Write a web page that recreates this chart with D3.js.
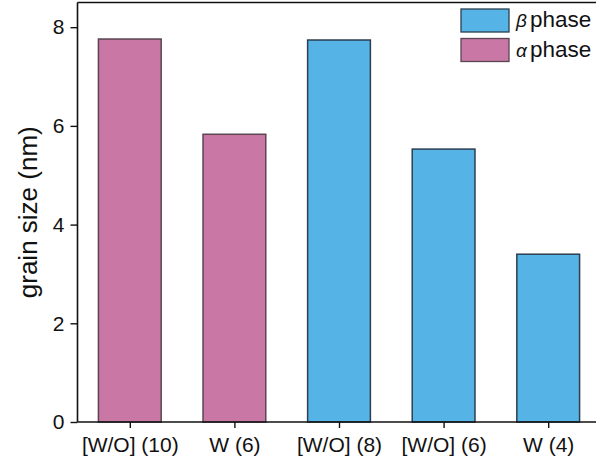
<!DOCTYPE html>
<html>
<head>
<meta charset="utf-8">
<script src="https://cdn.jsdelivr.net/npm/d3@7"></script>
<style>
  html, body { margin: 0; padding: 0; background: #fff; }
  svg { display: block; }
  text { font-family: "Liberation Sans", Arial, sans-serif; fill: #111; }
</style>
</head>
<body>
<script>
// Grain size per sample, grouped by phase
const categories = ["[W/O] (10)", "W (6)", "[W/O] (8)", "[W/O] (6)", "W (4)"];
const grainSize  = [7.76, 5.83, 7.74, 5.53, 3.40];
const phases     = ["alpha", "alpha", "beta", "beta", "beta"];
const yTicks     = [0, 2, 4, 6, 8];
const legendItems = [
  { key: "beta",  symbol: "\u03B2", label: "phase" },
  { key: "alpha", symbol: "\u03B1", label: "phase" }
];

const W = 596, H = 466;
const fillColor = { alpha: "#C978A6", beta: "#56B3E6" };
const strokeColor = { alpha: "#5a4552", beta: "#2c3e50" };

const svg = d3.select("body").append("svg")
  .attr("width", W).attr("height", H);

svg.append("rect").attr("width", W).attr("height", H).attr("fill", "#fff");

const plotLeft = 77.5, plotRight = 600.5, plotTop = 2.5, plotBottom = 422;

// categories sit at integer positions 1..n
const x = d3.scaleLinear().domain([0.5, categories.length + 0.5]).range([plotLeft, plotRight]);
const y = d3.scaleLinear().domain([0, 8.5]).range([plotBottom, plotTop]);
const barW = x(1.3) - x(0.7);

// bars
svg.append("g").selectAll("rect")
  .data(grainSize)
  .join("rect")
  .attr("x", (d, i) => x(i + 1) - barW / 2)
  .attr("y", d => y(d))
  .attr("width", barW)
  .attr("height", d => y(0) - y(d))
  .attr("fill", (d, i) => fillColor[phases[i]])
  .attr("stroke", (d, i) => strokeColor[phases[i]])
  .attr("stroke-width", 1.5);

// y axis
const yAxis = svg.append("g")
  .attr("transform", `translate(${plotLeft},0)`)
  .call(d3.axisLeft(y).tickValues(yTicks).tickFormat(d3.format("d")).tickSize(7).tickPadding(6));

// x axis
const xAxis = svg.append("g")
  .attr("transform", `translate(0,${plotBottom})`)
  .call(d3.axisBottom(x).tickValues(d3.range(1, categories.length + 1))
    .tickFormat(d => categories[d - 1]).tickSize(6).tickPadding(9));

[yAxis, xAxis].forEach(g => {
  g.select(".domain").attr("stroke", "#111").attr("stroke-width", 1.6);
  g.selectAll(".tick line").attr("stroke", "#111").attr("stroke-width", 1.4);
  g.selectAll(".tick text")
    .attr("font-family", "'Liberation Sans', Arial, sans-serif")
    .attr("font-size", 21).attr("fill", "#111");
});
xAxis.select(".domain").attr("d", `M${plotLeft},0H${W}`);
yAxis.select(".domain").attr("d", `M0,${plotBottom}V${plotTop}`);

// top frame line
svg.append("line")
  .attr("x1", plotLeft).attr("x2", W)
  .attr("y1", plotTop).attr("y2", plotTop)
  .attr("stroke", "#111").attr("stroke-width", 1.4);

// y axis title
svg.append("text")
  .attr("transform", `translate(37,${(plotTop + plotBottom) / 2}) rotate(-90)`)
  .attr("text-anchor", "middle")
  .attr("font-size", 26)
  .text("grain size (nm)");

// legend
const leg = svg.append("g").selectAll("g")
  .data(legendItems)
  .join("g")
  .attr("transform", (d, i) => `translate(461,${9 + i * 29.5})`);

leg.append("rect")
  .attr("width", 48).attr("height", 23)
  .attr("fill", d => fillColor[d.key])
  .attr("stroke", d => strokeColor[d.key])
  .attr("stroke-width", 1.3);

leg.append("text")
  .attr("x", 55).attr("y", 18)
  .attr("font-family", "'DejaVu Serif', 'Liberation Serif', serif")
  .attr("font-style", "italic")
  .attr("font-size", 19)
  .text(d => d.symbol);

leg.append("text")
  .attr("x", 69).attr("y", 18)
  .attr("font-size", 22.5)
  .text(d => d.label);
</script>
</body>
</html>
